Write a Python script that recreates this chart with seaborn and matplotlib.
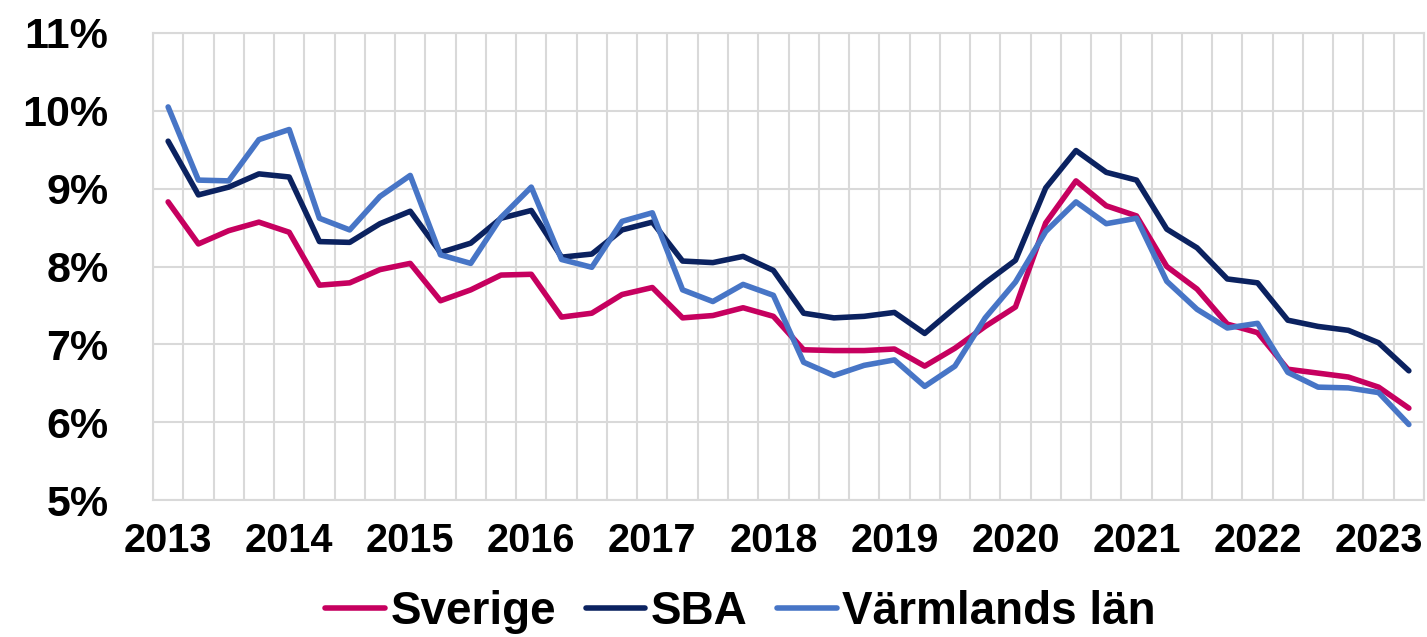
import numpy as np
import pandas as pd
import matplotlib.pyplot as plt
import seaborn as sns

# kvartal 2013 K1 - 2023 K2
years = list(range(2013, 2024))
quarters = [f"{y} K{q}" for y in years for q in range(1, 5)][:42]

sverige = [8.83, 8.29, 8.46, 8.57, 8.44, 7.76, 7.79, 7.96, 8.04, 7.56,
           7.70, 7.89, 7.90, 7.35, 7.40, 7.64, 7.73, 7.34, 7.37, 7.47,
           7.36, 6.93, 6.92, 6.92, 6.94, 6.72, 6.95, 7.23, 7.48, 8.56,
           9.10, 8.78, 8.65, 8.00, 7.71, 7.26, 7.15, 6.68, 6.63, 6.58,
           6.45, 6.18]
sba = [9.61, 8.92, 9.02, 9.19, 9.15, 8.32, 8.31, 8.55, 8.71, 8.18,
       8.30, 8.62, 8.72, 8.12, 8.16, 8.47, 8.57, 8.07, 8.05, 8.13,
       7.95, 7.40, 7.34, 7.36, 7.41, 7.14, 7.47, 7.79, 8.08, 9.01,
       9.49, 9.21, 9.11, 8.48, 8.24, 7.84, 7.79, 7.31, 7.23, 7.18,
       7.02, 6.66]
varmland = [10.05, 9.11, 9.10, 9.63, 9.76, 8.62, 8.47, 8.90, 9.17, 8.15,
            8.04, 8.63, 9.02, 8.09, 7.99, 8.58, 8.69, 7.70, 7.55, 7.77,
            7.63, 6.77, 6.60, 6.73, 6.80, 6.46, 6.72, 7.34, 7.80, 8.45,
            8.83, 8.55, 8.62, 7.81, 7.45, 7.21, 7.27, 6.64, 6.45, 6.44,
            6.38, 5.97]

series_names = ["Sverige", "SBA", "Värmlands län"]
colors = ["#C6005F", "#0B2260", "#4775C6"]
y_ticks = [5, 6, 7, 8, 9, 10, 11]

df = pd.DataFrame({"kvartal": quarters, "Sverige": sverige,
                   "SBA": sba, "Värmlands län": varmland})
long = df.melt(id_vars="kvartal", var_name="serie", value_name="andel")

sns.set_style("white")
plt.rcParams["font.family"] = ["Liberation Sans", "DejaVu Sans"]
plt.rcParams["font.weight"] = "bold"
plt.rcParams["text.color"] = "black"
plt.rcParams["xtick.color"] = "black"
plt.rcParams["ytick.color"] = "black"

fig = plt.figure(figsize=(14.27, 6.37), dpi=100)
ax = fig.add_axes([153 / 1427, 1 - 500 / 637, (1424 - 153) / 1427, (500 - 33) / 637])

sns.lineplot(data=long, x="kvartal", y="andel", hue="serie",
             hue_order=series_names, palette=colors, linewidth=4.0,
             sort=False, solid_capstyle="round", solid_joinstyle="round",
             ax=ax, zorder=3)

n = len(quarters)
ax.set_xlim(-0.5, n - 0.5)
ax.set_ylim(y_ticks[0], y_ticks[-1])
ax.set_yticks(y_ticks)
ax.set_yticklabels([f"{v}%" for v in y_ticks])
ax.set_xticks(range(0, n, 4))
ax.set_xticklabels([q[:4] for q in quarters[::4]])
ax.set_xticks(np.arange(-0.5, n, 1), minor=True)

grid_col = "#D9D9D9"
ax.grid(which="minor", axis="x", color=grid_col, linewidth=1.5)
ax.grid(which="major", axis="y", color=grid_col, linewidth=1.5)
ax.grid(which="major", axis="x", visible=False)
for s in ax.spines.values():
    s.set_color(grid_col)
    s.set_linewidth(1.5)

ax.tick_params(axis="both", which="both", length=0)
ax.tick_params(axis="y", labelsize=31, pad=32, labelcolor="black")
ax.tick_params(axis="x", labelsize=28.5, pad=16, labelcolor="black")
ax.set_xlabel("")
ax.set_ylabel("")

handles, labels = ax.get_legend_handles_labels()
ax.get_legend().remove()
leg = fig.legend(handles, labels, loc="center", bbox_to_anchor=(0.519, 0.039),
                 ncol=3, frameon=False, fontsize=33, handlelength=1.3,
                 handletextpad=0.12, columnspacing=0.65)
for t in leg.get_texts():
    t.set_color("black")

fig.savefig("out.png", dpi=100)
